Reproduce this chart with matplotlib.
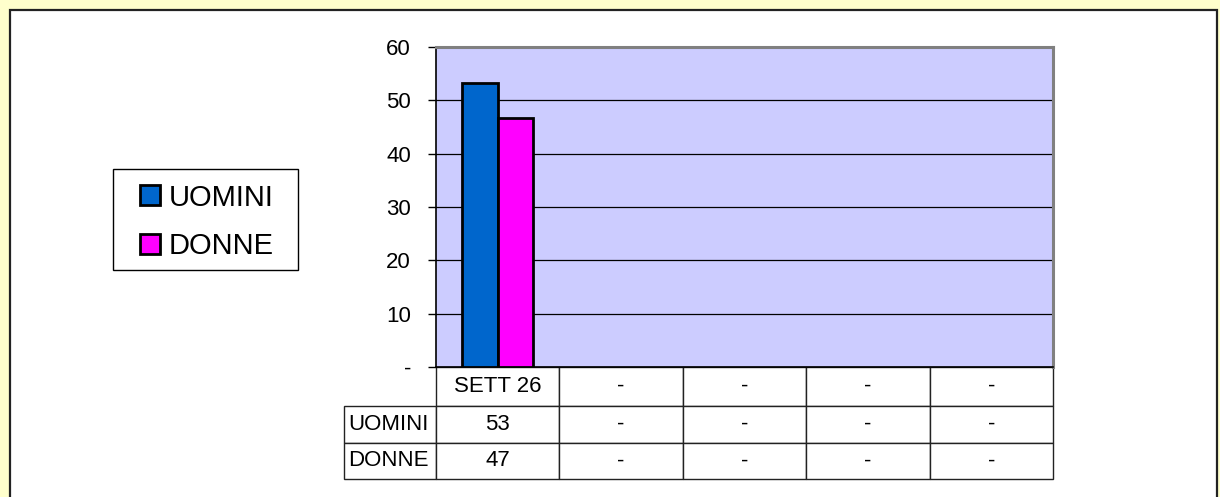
import matplotlib.pyplot as plt
from matplotlib.patches import Rectangle
from matplotlib.table import Table

plt.rcParams['font.family'] = ['Liberation Sans', 'DejaVu Sans']

categorie = ["SETT 26", "-", "-", "-", "-"]
serie = ["UOMINI", "DONNE"]
uomini = [53.3, None, None, None, None]
donne = [46.7, None, None, None, None]
colori = ["#0066CC", "#FF00FF"]
yticks = [0, 10, 20, 30, 40, 50, 60]
ytick_labels = ["-", "10", "20", "30", "40", "50", "60"]

W, H = 1220, 497
fig = plt.figure(figsize=(W / 100, H / 100), dpi=100)
fig.patch.set_facecolor("#FFFFCC")

# white panel with dark border (bottom runs off the image)
fig.add_artist(Rectangle((9.5 / W, -0.05), (1217 - 9.5) / W, 1.05 - 9.5 / H,
                         transform=fig.transFigure, facecolor="white",
                         edgecolor="#222222", lw=1.6, zorder=0))

ax = fig.add_axes([436 / W, (H - 367) / H, (1053 - 436) / W, (367 - 47) / H])
ax.set_facecolor("#CCCCFF")

bw = 0.288
x = list(range(len(categorie)))
vals_u = [v if v is not None else float("nan") for v in uomini]
vals_d = [v if v is not None else float("nan") for v in donne]
b1 = ax.bar([i - bw / 2 for i in x], vals_u, width=bw, color=colori[0],
            edgecolor="black", lw=2, zorder=3, label=serie[0])
b2 = ax.bar([i + bw / 2 for i in x], vals_d, width=bw, color=colori[1],
            edgecolor="black", lw=2, zorder=3, label=serie[1])

ax.set_xlim(-0.5, len(categorie) - 0.5)
ax.set_ylim(0, 60)
ax.set_yticks(yticks)
ax.set_yticklabels(ytick_labels, fontsize=16)
ax.set_xticks([])
ax.tick_params(axis="y", length=6, width=1, pad=12, colors="black")
for y in yticks[1:-1]:
    ax.axhline(y, color="black", lw=0.9, zorder=1)

for s in ["top", "right"]:
    ax.spines[s].set_color("#808080")
    ax.spines[s].set_linewidth(2.2)
for s in ["left", "bottom"]:
    ax.spines[s].set_color("black")
    ax.spines[s].set_linewidth(1.2)

# data table under the axes
def fmt(v):
    return "-" if v is None else f"{v:.0f}"

righe = [[fmt(v) for v in uomini], [fmt(v) for v in donne]]
tab = Table(ax, bbox=[0, -112 / 320, 1, 112 / 320])
cw = 1 / len(categorie)
h_head, h_row = 39 / 320, 36.5 / 320
for j, c in enumerate(categorie):
    tab.add_cell(0, j, cw, h_head, text=c, loc="center")
for i, (nome, vals) in enumerate(zip(serie, righe), start=1):
    cell = tab.add_cell(i, -1, 92 / 617, h_row, text=nome, loc="left")
    cell.PAD = 0.05
    for j, t in enumerate(vals):
        tab.add_cell(i, j, cw, h_row, text=t, loc="center")
tab.auto_set_font_size(False)
tab.set_fontsize(16)
for cell in tab.get_celld().values():
    cell.set_edgecolor("#222222")
    cell.set_linewidth(1.0)
    cell.set_facecolor("white")
ax.add_table(tab)

# legend with its own frame
fig.add_artist(Rectangle((113 / W, 1 - 270 / H), (298 - 113) / W, (270 - 169) / H,
                         transform=fig.transFigure, facecolor="white",
                         edgecolor="black", lw=1.0, zorder=1))
leg = fig.legend(handles=[b1, b2], labels=serie, loc="center",
                 bbox_to_anchor=(207 / W, 1 - 222 / H), fontsize=21,
                 frameon=False, handlelength=0.68, handleheight=0.68,
                 handletextpad=0.3, labelspacing=0.72, borderpad=0)
leg.set_zorder(2)

fig.savefig("out.png", dpi=100, facecolor=fig.get_facecolor())
